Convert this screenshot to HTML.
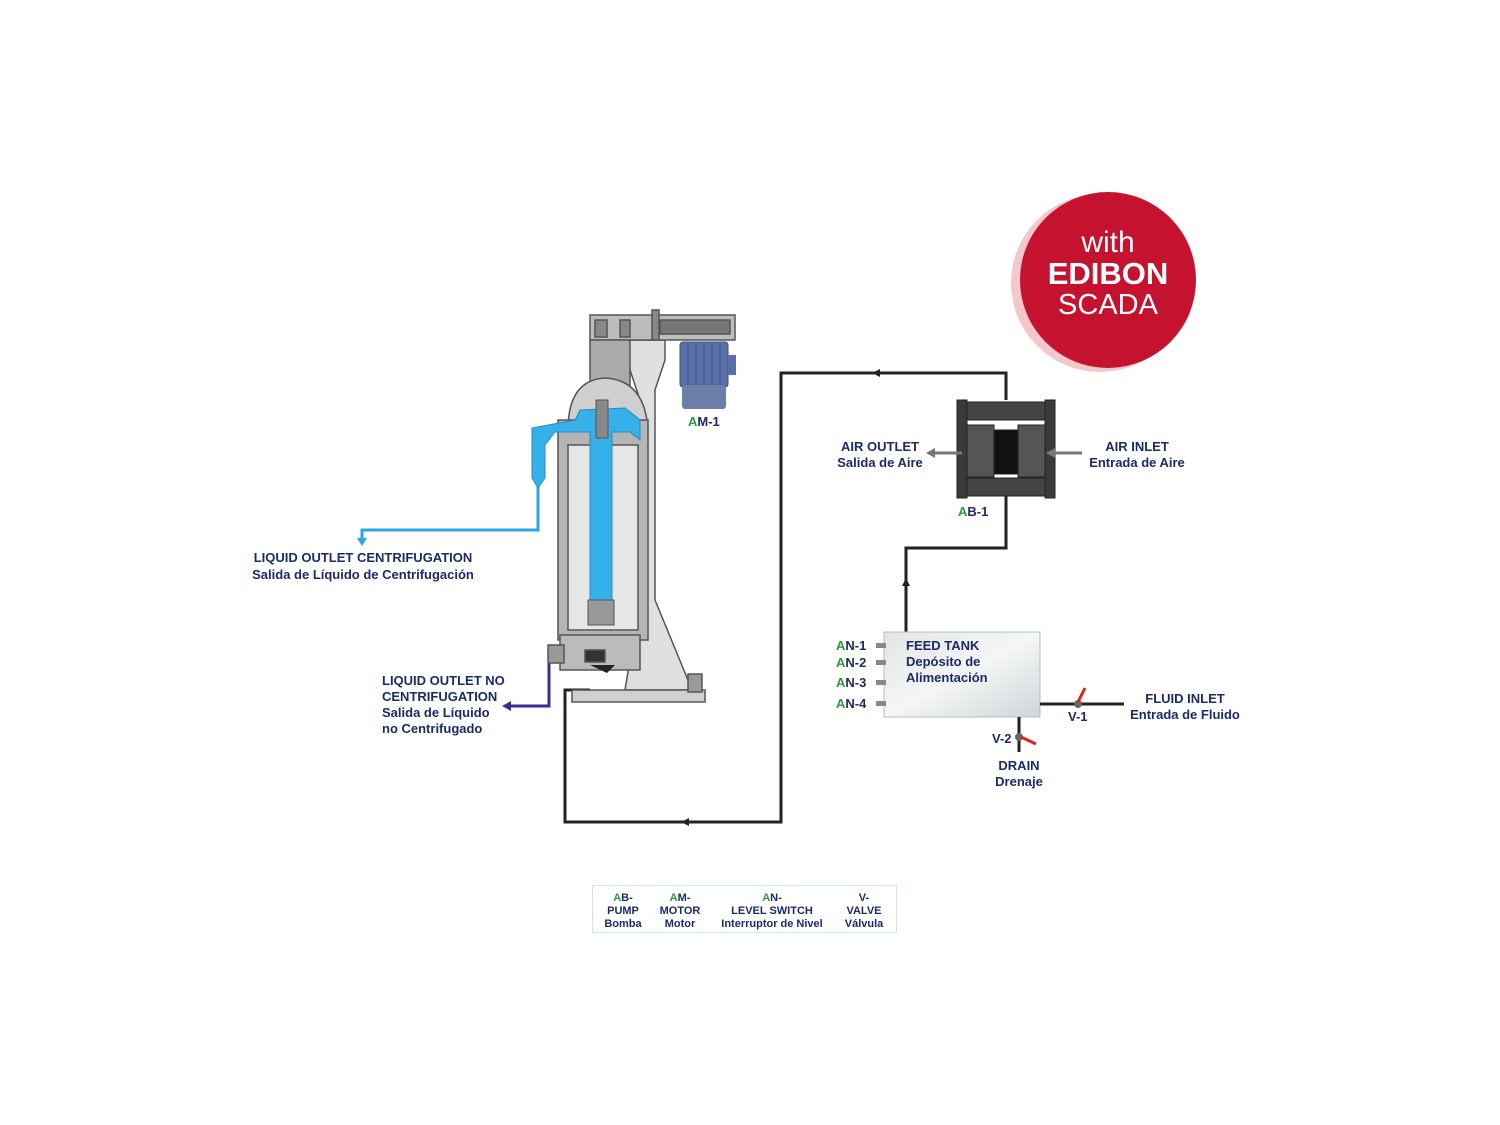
<!DOCTYPE html>
<html><head><meta charset="utf-8"><style>
html,body{margin:0;padding:0;background:#fff;}
svg{display:block;}
text{font-family:"Liberation Sans",sans-serif;font-weight:bold;fill:#1b2a6b;}
.g{fill:#2a9a3a;}
</style></head><body>
<svg width="1500" height="1125" viewBox="0 0 1500 1125" xmlns="http://www.w3.org/2000/svg">
<defs>
<linearGradient id="tk" x1="0" y1="0" x2="1" y2="1"><stop offset="0" stop-color="#e4e4e4"/><stop offset="0.5" stop-color="#f4f6f6"/><stop offset="1" stop-color="#cfd6d8"/></linearGradient>
</defs>

<!-- badge -->
<circle cx="1100" cy="283" r="89" fill="#f4c7cc"/>
<circle cx="1108" cy="280" r="88" fill="#c4122f"/>
<text x="1108" y="252" text-anchor="middle" font-size="30" style="font-weight:normal;fill:#fff">with</text>
<text x="1108" y="284" text-anchor="middle" font-size="31" style="fill:#fff">EDIBON</text>
<text x="1108" y="314" text-anchor="middle" font-size="29" style="font-weight:normal;fill:#fff">SCADA</text>

<!-- pipes black -->
<polyline points="1006,400 1006,373 781,373 781,822 565,822 565,690 590,690" fill="none" stroke="#222" stroke-width="3"/>
<path d="M872,373 l8,-4 v8 z" fill="#222"/>
<path d="M681,822 l8,-4 v8 z" fill="#222"/>
<polyline points="1006,492 1006,548 906,548 906,633" fill="none" stroke="#222" stroke-width="3"/>
<path d="M906,578 l-4,8 h8 z" fill="#222"/>
<!-- blue outlet -->
<polyline points="538,480 538,530 362,530 362,540" fill="none" stroke="#2aa7e0" stroke-width="3"/>
<path d="M362,546 l-5,-8 h10 z" fill="#2aa7e0"/>
<!-- purple outlet -->
<polyline points="549,660 549,706 510,706" fill="none" stroke="#3a2f8f" stroke-width="3"/>
<path d="M502,706 l9,-5 v10 z" fill="#3a2f8f"/>

<!-- centrifuge -->
<g stroke="#555" stroke-width="1.5">
<path d="M620,340 L665,340 L665,360 L655,390 L655,600 L690,685 L700,690 L625,690 L640,600 L640,400 Z" fill="#e0e0e0"/>
<rect x="590" y="315" width="145" height="25" fill="#bdbdbd"/>
<rect x="660" y="320" width="70" height="14" fill="#777"/>
<rect x="595" y="320" width="12" height="17" fill="#888"/>
<rect x="620" y="320" width="10" height="17" fill="#888"/>
<rect x="652" y="310" width="7" height="30" fill="#888"/>
<rect x="590" y="340" width="40" height="45" fill="#aaa"/>
<path d="M568,430 Q568,380 605,378 Q645,380 648,430 Z" fill="#cfcfcf"/>
<rect x="558" y="420" width="90" height="220" fill="#b5b5b5"/>
<rect x="568" y="445" width="70" height="185" fill="#e6e6e6"/>
<rect x="572" y="690" width="133" height="12" fill="#cfcfcf"/>
<rect x="560" y="635" width="80" height="35" fill="#bbb"/>
<rect x="548" y="645" width="16" height="18" fill="#999"/>
<rect x="585" y="650" width="20" height="12" fill="#333"/>
<rect x="688" y="674" width="14" height="18" fill="#999"/>
</g>
<path d="M575,420 L580,410 L625,408 L640,420 L640,440 L630,432 L612,432 L612,600 L590,600 L590,432 L555,432 L545,445 L545,478 L538,488 L532,478 L532,428 Z" fill="#35b0e8" stroke="#2a8ac0"/>
<rect x="596" y="400" width="12" height="38" fill="#888" stroke="#555"/>
<rect x="588" y="600" width="26" height="25" fill="#999" stroke="#555"/>
<path d="M590,665 h25 l-8,8 z" fill="#222"/>
<!-- motor -->
<rect x="680" y="342" width="48" height="45" rx="3" fill="#5a6fa8" stroke="#3c4f86"/>
<g stroke="#3c4f86" stroke-width="1"><line x1="688" y1="345" x2="688" y2="385"/><line x1="696" y1="345" x2="696" y2="385"/><line x1="704" y1="345" x2="704" y2="385"/><line x1="712" y1="345" x2="712" y2="385"/><line x1="720" y1="345" x2="720" y2="385"/></g>
<rect x="682" y="385" width="44" height="24" rx="3" fill="#6d7fa8"/>
<rect x="728" y="355" width="8" height="20" fill="#5a6fa8"/>
<text x="688" y="426" font-size="13"><tspan class="g">A</tspan>M-1</text>

<!-- pump -->
<g fill="#444" stroke="#222">
<rect x="960" y="402" width="92" height="18" rx="4"/>
<rect x="960" y="478" width="92" height="18" rx="4"/>
<rect x="966" y="425" width="28" height="52" fill="#555"/>
<rect x="1018" y="425" width="28" height="52" fill="#555"/>
<rect x="994" y="430" width="24" height="44" fill="#111"/>
<rect x="957" y="400" width="10" height="98" fill="#3a3a3a"/>
<rect x="1045" y="400" width="10" height="98" fill="#3a3a3a"/>
</g>
<line x1="928" y1="453" x2="962" y2="453" stroke="#777" stroke-width="3"/>
<path d="M926,453 l9,-5 v10 z" fill="#777"/>
<line x1="1050" y1="453" x2="1082" y2="453" stroke="#777" stroke-width="3"/>
<path d="M1046,453 l9,-5 v10 z" fill="#777"/>
<text x="880" y="451" text-anchor="middle" font-size="13">AIR OUTLET</text>
<text x="880" y="467" text-anchor="middle" font-size="13">Salida de Aire</text>
<text x="1137" y="451" text-anchor="middle" font-size="13">AIR INLET</text>
<text x="1137" y="467" text-anchor="middle" font-size="13">Entrada de Aire</text>
<text x="958" y="516" font-size="13"><tspan class="g">A</tspan>B-1</text>

<!-- tank -->
<rect x="884" y="632" width="156" height="85" fill="url(#tk)" stroke="#bbb"/>
<g fill="#888"><rect x="876" y="643" width="10" height="5"/><rect x="876" y="660" width="10" height="5"/><rect x="876" y="680" width="10" height="5"/><rect x="876" y="701" width="10" height="5"/></g>
<text x="906" y="650" font-size="13">FEED TANK</text>
<text x="906" y="666" font-size="13">Depósito de</text>
<text x="906" y="682" font-size="13">Alimentación</text>
<text x="836" y="650" font-size="13"><tspan class="g">A</tspan>N-1</text>
<text x="836" y="667" font-size="13"><tspan class="g">A</tspan>N-2</text>
<text x="836" y="687" font-size="13"><tspan class="g">A</tspan>N-3</text>
<text x="836" y="708" font-size="13"><tspan class="g">A</tspan>N-4</text>
<line x1="1040" y1="704" x2="1124" y2="704" stroke="#222" stroke-width="3"/>
<circle cx="1078" cy="704" r="4" fill="#666"/>
<line x1="1078" y1="702" x2="1085" y2="688" stroke="#d22" stroke-width="3"/>
<text x="1068" y="721" font-size="13">V-1</text>
<text x="1185" y="703" text-anchor="middle" font-size="13">FLUID INLET</text>
<text x="1185" y="719" text-anchor="middle" font-size="13">Entrada de Fluido</text>
<line x1="1019" y1="717" x2="1019" y2="752" stroke="#222" stroke-width="3"/>
<circle cx="1019" cy="737" r="4" fill="#666"/>
<line x1="1021" y1="737" x2="1036" y2="744" stroke="#d22" stroke-width="3"/>
<text x="992" y="743" font-size="13">V-2</text>
<text x="1019" y="770" text-anchor="middle" font-size="13">DRAIN</text>
<text x="1019" y="786" text-anchor="middle" font-size="13">Drenaje</text>

<!-- outlet labels -->
<text x="363" y="562" text-anchor="middle" font-size="13">LIQUID OUTLET CENTRIFUGATION</text>
<text x="363" y="579" text-anchor="middle" font-size="13">Salida de Líquido de Centrifugación</text>
<text x="382" y="685" font-size="13">LIQUID OUTLET NO</text>
<text x="382" y="701" font-size="13">CENTRIFUGATION</text>
<text x="382" y="717" font-size="13">Salida de Líquido</text>
<text x="382" y="733" font-size="13">no Centrifugado</text>

<!-- legend -->
<rect x="592.5" y="885.5" width="304" height="47" fill="#fff" stroke="#cfe3ef"/>
<g font-size="11" text-anchor="middle">
<text x="623" y="901"><tspan class="g">A</tspan>B-</text>
<text x="623" y="914">PUMP</text>
<text x="623" y="927">Bomba</text>
<text x="680" y="901"><tspan class="g">A</tspan>M-</text>
<text x="680" y="914">MOTOR</text>
<text x="680" y="927">Motor</text>
<text x="772" y="901"><tspan class="g">A</tspan>N-</text>
<text x="772" y="914">LEVEL SWITCH</text>
<text x="772" y="927">Interruptor de Nivel</text>
<text x="864" y="901">V-</text>
<text x="864" y="914">VALVE</text>
<text x="864" y="927">Válvula</text>
</g>
</svg>
</body></html>
